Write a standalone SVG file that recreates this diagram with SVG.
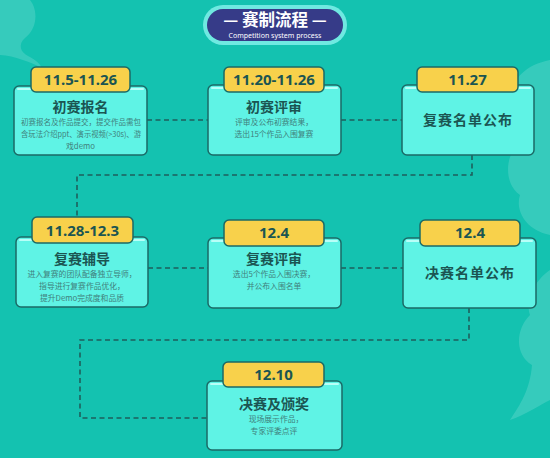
<svg xmlns="http://www.w3.org/2000/svg" width="550" height="458" viewBox="0 0 550 458">
<style>
.box{fill:#5ff3e5;stroke:#1b6a66;stroke-width:1.5}
.hl{fill:none;stroke:#b8fff8;stroke-width:2;stroke-linecap:round}
.tag{fill:#f8d14b;stroke:#1b6a66;stroke-width:1.5}
.date{font-family:"Noto Sans","Liberation Sans",sans-serif;font-weight:bold;font-size:15px;fill:#1b5552;text-anchor:middle}
.ttl{font-family:"Noto Sans CJK SC",sans-serif;font-weight:bold;font-size:14px;fill:#1b5552;text-anchor:middle}
.big{font-family:"Noto Sans CJK SC",sans-serif;font-weight:bold;font-size:14px;fill:#1b5552;text-anchor:middle;letter-spacing:1px}
.desc{font-family:"Noto Sans CJK SC",sans-serif;font-size:7.8px;fill:#3f7f7b;text-anchor:middle}
.conn{fill:none;stroke:#1e5f5c;stroke-width:1.6;stroke-dasharray:5 3.5}
.deco{fill:#5fd8cc;opacity:0.45}
</style>
<rect width="550" height="458" fill="#14c2b0"/>
<g id="decor">
<path class="deco" d="M0,0 L30,0 C38,10 38,28 25,38 C18,44 20,52 28,56 C36,60 40,64 42,68 C30,62 15,56 0,55 Z"/>
<path class="deco" d="M550,60 C525,65 510,80 512,100 C500,110 500,135 515,148 C505,160 505,185 520,195 C515,210 525,230 550,235 Z"/>
<path class="deco" d="M550,270 C535,280 525,300 530,315 C515,330 515,355 532,365 C530,390 520,405 510,420 C525,415 540,405 550,400 Z"/>
</g>
<g id="title">
<rect x="203" y="5" width="144" height="40" rx="20" fill="#6fe9e1"/>
<rect x="207" y="9" width="136" height="32" rx="16" fill="#363b88"/>
<text x="275" y="25.5" font-family="Noto Sans CJK SC,sans-serif" font-weight="bold" font-size="16.5" fill="#ffffff" text-anchor="middle">— 赛制流程 —</text>
<text x="275" y="38" font-family="Noto Sans,Liberation Sans,sans-serif" font-size="7" fill="#ffffff" text-anchor="middle">Competition system process</text>
</g>
<g id="connectors">
<path class="conn" d="M147,120 H208"/>
<path class="conn" d="M341,120 H402"/>
<path class="conn" d="M472,155 V175 H77 V217"/>
<path class="conn" d="M148,268 H208"/>
<path class="conn" d="M341,268 H403"/>
<path class="conn" d="M469,308 V340 H80 V418 H207"/>
</g>
<g id="n1">
<rect class="box" x="14" y="86" width="133" height="69" rx="5"/>
<path class="hl" d="M18,89 H143"/>
<rect class="tag" x="31" y="67" width="99" height="25" rx="5"/>
<text class="date" x="80.5" y="85">11.5-11.26</text>
<text class="ttl" x="80.5" y="112">初赛报名</text>
<text class="desc" x="81" y="125" textLength="120" lengthAdjust="spacingAndGlyphs">初赛报名及作品提交，提交作品需包</text>
<text class="desc" x="81" y="137" textLength="120" lengthAdjust="spacingAndGlyphs">含玩法介绍ppt、演示视频(&gt;30s)、游</text>
<text class="desc" x="80.5" y="149">戏demo</text>
</g>
<g id="n2">
<rect class="box" x="208" y="85" width="133" height="70" rx="5"/>
<path class="hl" d="M212,88 H337"/>
<rect class="tag" x="224" y="67" width="100" height="25" rx="5"/>
<text class="date" x="274" y="85">11.20-11.26</text>
<text class="ttl" x="274" y="112">初赛评审</text>
<text class="desc" x="274" y="125">评审及公布初赛结果，</text>
<text class="desc" x="274" y="137">选出15个作品入围复赛</text>
</g>
<g id="n3">
<rect class="box" x="402" y="85" width="132" height="70" rx="5"/>
<path class="hl" d="M406,88 H530"/>
<rect class="tag" x="417" y="67" width="101" height="25" rx="5"/>
<text class="date" x="467.5" y="85">11.27</text>
<text class="big" x="468" y="125">复赛名单公布</text>
</g>
<g id="n4">
<rect class="box" x="16" y="237" width="132" height="70" rx="5"/>
<path class="hl" d="M20,240 H144"/>
<rect class="tag" x="32" y="217" width="101" height="26" rx="5"/>
<text class="date" x="82.5" y="236">11.28-12.3</text>
<text class="ttl" x="82" y="264">复赛辅导</text>
<text class="desc" x="82" y="277">进入复赛的团队配备独立导师，</text>
<text class="desc" x="82" y="289">指导进行复赛作品优化，</text>
<text class="desc" x="82" y="301">提升Demo完成度和品质</text>
</g>
<g id="n5">
<rect class="box" x="208" y="238" width="133" height="70" rx="5"/>
<path class="hl" d="M212,241 H337"/>
<rect class="tag" x="224" y="220" width="100" height="26" rx="5"/>
<text class="date" x="274" y="238">12.4</text>
<text class="ttl" x="274" y="264">复赛评审</text>
<text class="desc" x="274" y="277">选出5个作品入围决赛，</text>
<text class="desc" x="274" y="289">并公布入围名单</text>
</g>
<g id="n6">
<rect class="box" x="403" y="238" width="133" height="70" rx="5"/>
<path class="hl" d="M407,241 H532"/>
<rect class="tag" x="420" y="220" width="100" height="26" rx="5"/>
<text class="date" x="470" y="238">12.4</text>
<text class="big" x="470" y="278">决赛名单公布</text>
</g>
<g id="n7">
<rect class="box" x="207" y="381" width="135" height="69" rx="5"/>
<path class="hl" d="M211,384 H338"/>
<rect class="tag" x="223" y="362" width="101" height="25" rx="5"/>
<text class="date" x="273.5" y="380">12.10</text>
<text class="ttl" x="274" y="409">决赛及颁奖</text>
<text class="desc" x="276" y="422">现场展示作品，</text>
<text class="desc" x="274" y="434">专家评委点评</text>
</g>
</svg>
